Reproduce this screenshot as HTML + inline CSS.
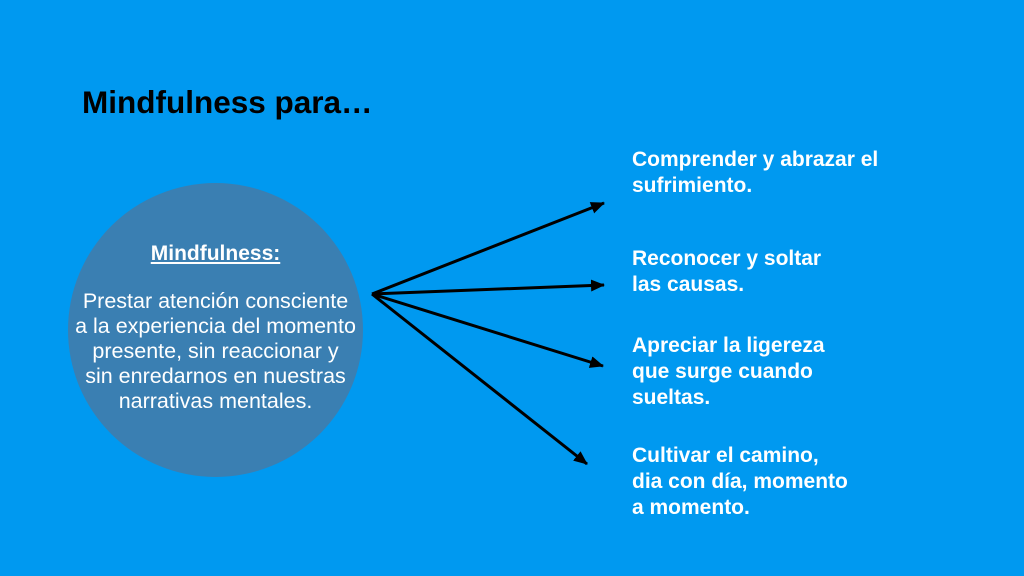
<!DOCTYPE html>
<html><head><meta charset="utf-8"><style>
body{margin:0;width:1024px;height:576px;background:#0099f0;overflow:hidden;position:relative;font-family:"Liberation Sans",Arial,sans-serif}
.t{position:absolute;left:82px;top:84px;font-size:31.5px;font-weight:bold;color:#000}
.c{position:absolute;left:68px;top:183px;width:295px;height:294px;border-radius:50%;background:#3a7fb2}
.ct{position:absolute;left:40px;width:351px;text-align:center;color:#fff;font-size:21.5px;line-height:25px}
.r{position:absolute;left:632px;color:#fff;font-weight:bold;font-size:21px;line-height:26px}
</style></head><body>
<div class="t">Mindfulness para…</div>
<div class="c"></div>
<div class="ct" style="top:241px;font-weight:bold;text-decoration:underline;font-size:21px">Mindfulness:</div>
<div class="ct" style="top:289px">Prestar atención consciente<br>a la experiencia del momento<br>presente, sin reaccionar y<br>sin enredarnos en nuestras<br>narrativas mentales.</div>
<svg width="1024" height="576" style="position:absolute;left:0;top:0">
<defs><marker id="a" markerWidth="14" markerHeight="12" refX="13" refY="6" orient="auto" markerUnits="userSpaceOnUse"><path d="M0,0 L14,6 L0,12 Z" fill="#000"/></marker></defs>
<g stroke="#000" stroke-width="3" marker-end="url(#a)" fill="none">
<line x1="372" y1="294" x2="604" y2="203"/>
<line x1="372" y1="294" x2="604" y2="285"/>
<line x1="372" y1="294" x2="603" y2="366"/>
<line x1="372" y1="294" x2="587" y2="464"/>
</g></svg>
<div class="r" style="top:147px">Comprender y abrazar el<br>sufrimiento.</div>
<div class="r" style="top:246px">Reconocer y soltar<br>las causas.</div>
<div class="r" style="top:333px">Apreciar la ligereza<br>que surge cuando<br>sueltas.</div>
<div class="r" style="top:443px">Cultivar el camino,<br>dia con día, momento<br>a momento.</div>
</body></html>
